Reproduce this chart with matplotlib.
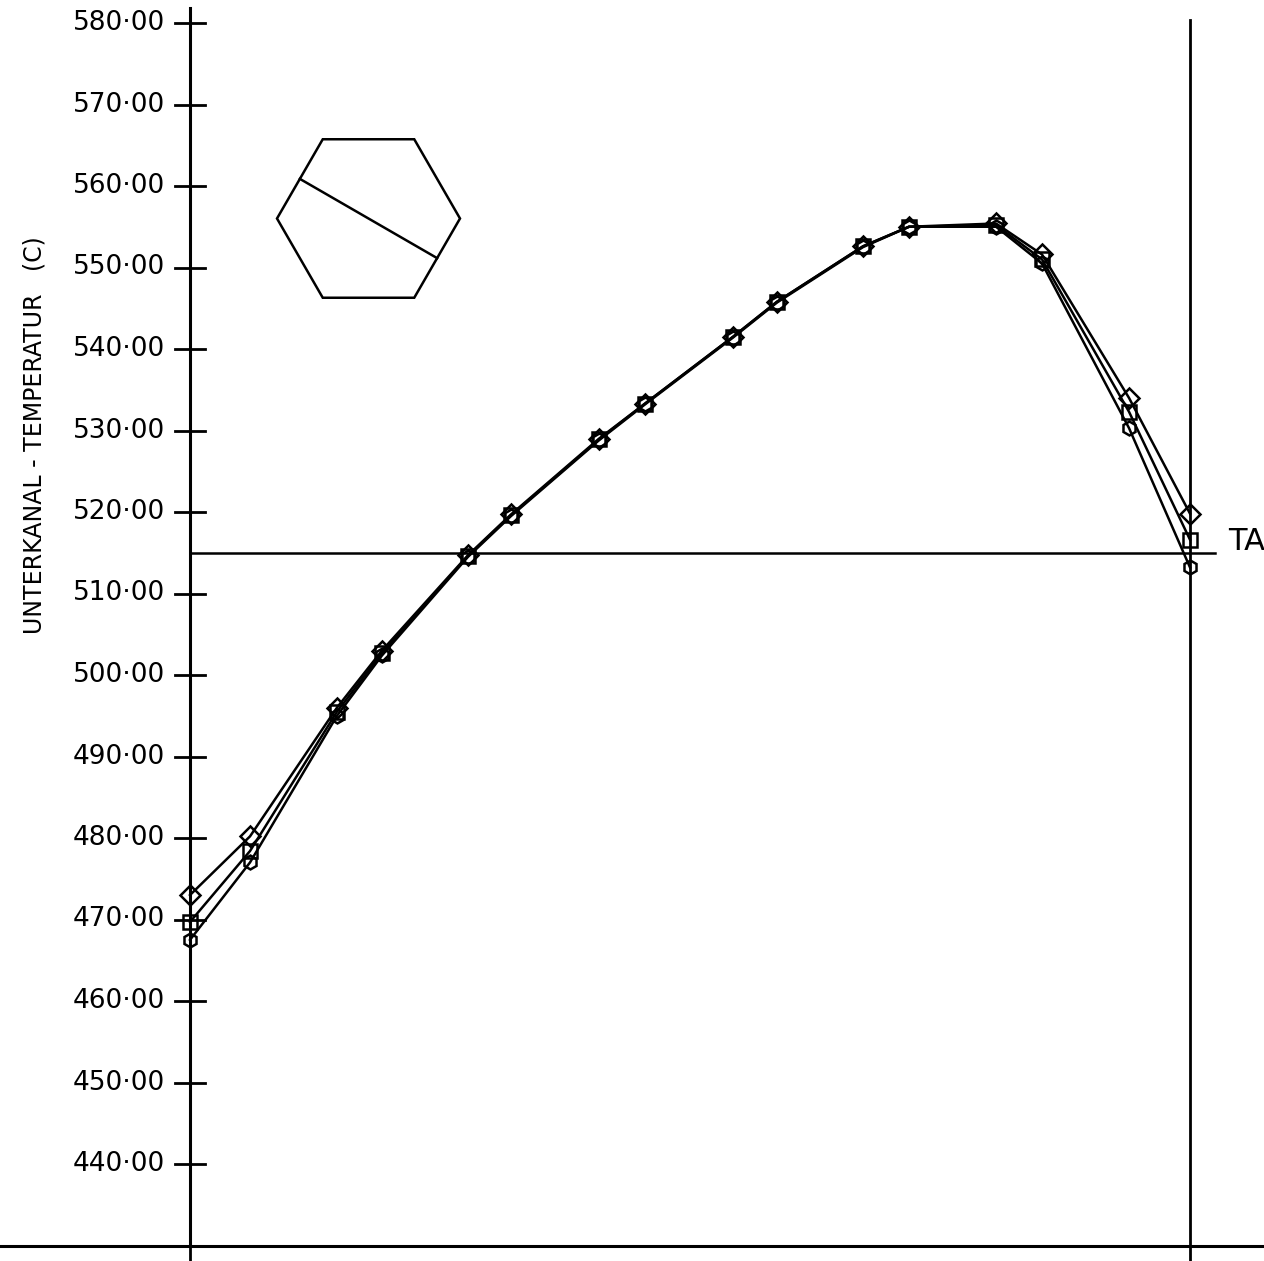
import numpy as np
import matplotlib
matplotlib.use("Agg")
import matplotlib.pyplot as plt
from matplotlib.patches import RegularPolygon

# axial positions of the measuring points (0 = left axis, 1000 = right line)
x_pos = [0, 60, 147, 192, 278, 321, 409, 455, 543, 587, 673, 719, 806, 852, 939, 1000]

# subchannel temperatures (C), three channels
temp_a = [473.0, 480.2, 496.0, 503.0, 514.7, 519.7, 529.0, 533.3, 541.5, 545.8,
          552.6, 555.0, 555.4, 551.6, 534.0, 519.8]
temp_b = [469.7, 478.4, 495.5, 502.7, 514.6, 519.6, 528.9, 533.3, 541.5, 545.8,
          552.6, 555.0, 555.2, 551.0, 532.3, 516.6]
temp_c = [467.5, 477.0, 495.0, 502.4, 514.5, 519.5, 528.8, 533.2, 541.4, 545.7,
          552.5, 555.0, 555.0, 550.5, 530.3, 513.2]

y_ticks = [440, 450, 460, 470, 480, 490, 500, 510, 520, 530, 540, 550, 560, 570, 580]
t_am = 515.0  # reference temperature line
y_label = "UNTERKANAL - TEMPERATUR   (C)"

fonts = ["DejaVu Sans"]

W, H = 1264, 1261
fig = plt.figure(figsize=(W / 100, H / 100), dpi=100)
ax = fig.add_axes([0, 0, 1, 1])

# pixel scale: 1 px per x unit, 8.15 px per degree
ppu = 8.15
ax.set_xlim(-190, W - 190)
ax.set_ylim(580 - (H - 23) / ppu, 580 + 23 / ppu)
ax.axis("off")

lc = "black"
# frame lines
ax.plot([0, 0], [430, 581.8], color=lc, lw=2.2)
ax.axhline(430, color=lc, lw=2.2)
ax.plot([1000, 1000], [ax.get_ylim()[0], 580.4], color=lc, lw=2)
ax.plot([0, 0], [ax.get_ylim()[0], 430], color=lc, lw=2)

# y ticks as crosses
for v in y_ticks:
    ax.plot([-15, 15], [v, v], color=lc, lw=2)
    ax.text(-25, v, f"{v}·00", ha="right", va="center", fontsize=19,
            family=fonts, color=lc)

ax.text(-155, 529.4, y_label, rotation=90, ha="center", va="center",
        fontsize=17, family=fonts, color=lc)

# reference line
ax.plot([0, 1025], [t_am, t_am], color=lc, lw=1.8)
ax.text(1038, 516.4, "TAM", ha="left", va="center", fontsize=22,
        family=fonts, color=lc)

# data series
for temps, mk in [(temp_a, "D"), (temp_b, "s"), (temp_c, "h")]:
    ax.plot(x_pos, temps, color=lc, lw=1.8, marker=mk, markersize=10,
            markerfacecolor="none", markeredgewidth=1.8)

# hexagon inset (channel sketch)
ins = fig.add_axes([250 / W, 1 - 330 / H, 240 / W, 220 / H])
ins.set_xlim(250, 490)
ins.set_ylim(330, 110)
ins.axis("off")
cx, cy, R = 368.5, 218.5, 91.5
ins.add_patch(RegularPolygon((cx, cy), 6, radius=R, orientation=np.pi / 6,
                             fill=False, edgecolor=lc, lw=1.8))
a = R * np.sqrt(3) / 2
dx, dy = a * np.cos(np.pi / 6), a * np.sin(np.pi / 6)
ins.plot([cx - dx, cx + dx], [cy - dy, cy + dy], color=lc, lw=1.8)

fig.savefig("out.png", dpi=100, facecolor="white")
